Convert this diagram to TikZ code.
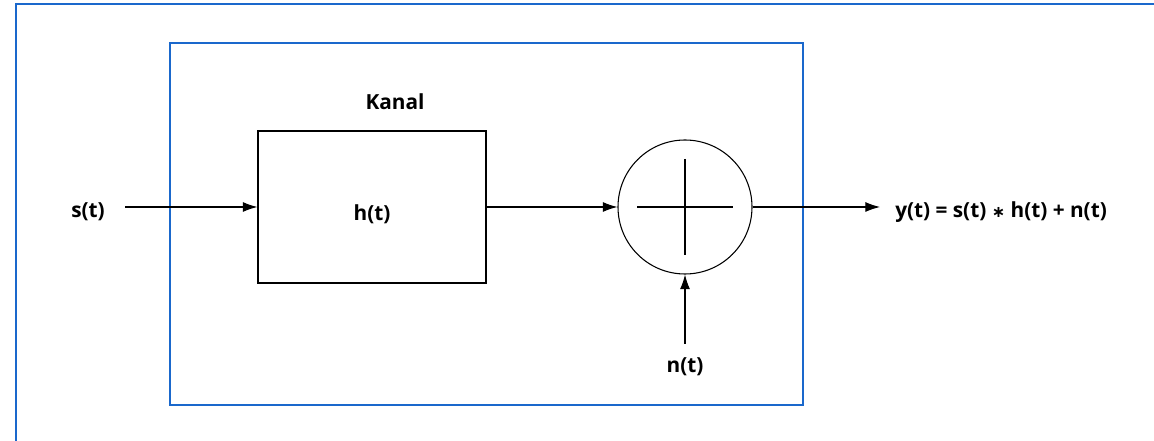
\documentclass[tikz,border=0pt]{standalone}
\usepackage{fontspec}
\setmainfont{Open Sans}
\newfontfamily\symfont{DejaVu Sans}
\usetikzlibrary{arrows.meta}
\definecolor{frameblue}{HTML}{1A68CC}
\tikzset{
  lbl/.style={font=\bfseries\fontsize{15.6pt}{18pt}\selectfont, inner sep=0pt},
  sig/.style={draw=black, line width=0.8pt, -{Latex[length=11pt,width=7.5pt]}},
  blk/.style={draw=black, line width=0.8pt},
  fr/.style={draw=frameblue, line width=1.2pt}
}
\begin{document}
\begin{tikzpicture}[x=0.75pt,y=-0.75pt]
\useasboundingbox (0,0) rectangle (1154,441);
% outer frame (partial)
\draw[fr] (16,441) -- (16,4) -- (1154,4);
% inner frame
\draw[fr] (170,43) rectangle (803,405);
% channel box
\node[blk, minimum width=171pt, minimum height=114pt, inner sep=0pt] (h) at (372,207) {};
\node[lbl] (hl) at (372,214) {h(t)};
\node[lbl] (kanal) at (395,102) {Kanal};
% adder
\node[blk, circle, minimum size=100.5pt, inner sep=0pt] (sum) at (685,207) {};
\coordinate (cl) at (637,207);
\coordinate (cr) at (733,207);
\coordinate (ct) at (685,159);
\coordinate (cb) at (685,255);
\draw[blk] (cl) -- (cr);
\draw[blk] (ct) -- (cb);
% labels
\node[lbl] (s) at (88,212) {s(t)};
\node[lbl, anchor=west] (y) at (895,212) {y(t) = s(t) {\symfont\bfseries\fontsize{12pt}{14pt}\selectfont ∗} h(t) + n(t)};
\node[lbl] (n) at (685,367) {n(t)};
\coordinate (sstart) at (125,207);
\coordinate (yend) at (880,207);
\coordinate (nstart) at (685,344);
% connectors
\draw[sig] (sstart) -- (h.west);
\draw[sig] (h.east) -- (sum.west);
\draw[sig] (sum.east) -- (yend);
\draw[sig] (nstart) -- (sum.south);
\end{tikzpicture}
\end{document}
